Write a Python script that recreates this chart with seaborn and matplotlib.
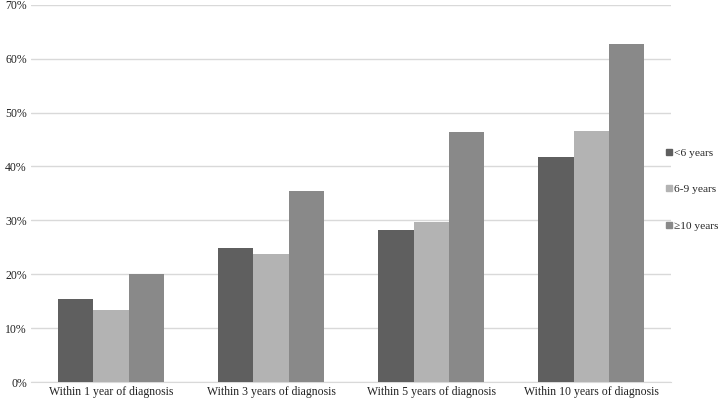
import pandas as pd
import matplotlib.pyplot as plt
import seaborn as sns
from matplotlib.ticker import PercentFormatter
from matplotlib.lines import Line2D

# --- DATA ---
periods = ["Within 1 year of diagnosis", "Within 3 years of diagnosis",
           "Within 5 years of diagnosis", "Within 10 years of diagnosis"]
groups = ["<6 years", "6-9 years", "\u226510 years"]
under6 = [15.4, 24.9, 28.2, 41.8]
six_to_nine = [13.4, 23.8, 29.7, 46.5]
ten_plus = [20.1, 35.4, 46.4, 62.7]
colors = ["#5f5f5f", "#b3b3b3", "#898989"]

df = pd.DataFrame({
    "Period": periods * 3,
    "Group": [groups[0]] * 4 + [groups[1]] * 4 + [groups[2]] * 4,
    "Value": under6 + six_to_nine + ten_plus,
})

sns.set_style("white")
plt.rcParams["font.family"] = ["Liberation Serif", "DejaVu Serif"]

fig, ax = plt.subplots(figsize=(7.21, 4.03), dpi=100)
fig.subplots_adjust(left=0.043, right=0.931, top=0.988, bottom=0.052)

sns.barplot(data=df, x="Period", y="Value", hue="Group", palette=colors,
            width=0.66, saturation=1, linewidth=0, ax=ax, legend=False, zorder=3)

ax.set_ylim(0, 70)
ax.set_yticks(range(0, 71, 10))
ax.yaxis.set_major_formatter(PercentFormatter(decimals=0))
ax.grid(axis="y", color="#d9d9d9", linewidth=1, zorder=0)
ax.set_axisbelow(True)
for s in ["top", "right", "left"]:
    ax.spines[s].set_visible(False)
ax.spines["bottom"].set_color("#d9d9d9")
ax.tick_params(axis="both", length=0, labelsize=8.5, colors="#222222", pad=3)
ax.set_xlabel("")
ax.set_ylabel("")

handles = [Line2D([0], [0], marker="s", linestyle="", markersize=5,
                  markerfacecolor=c, markeredgecolor=c) for c in colors]
fig.legend(handles, groups, loc="center left", bbox_to_anchor=(0.921, 0.53),
           frameon=False, fontsize=8.2, handletextpad=0.1, labelspacing=2.35,
           handlelength=0.8, borderpad=0, borderaxespad=0)

plt.savefig("out.png", dpi=100)
